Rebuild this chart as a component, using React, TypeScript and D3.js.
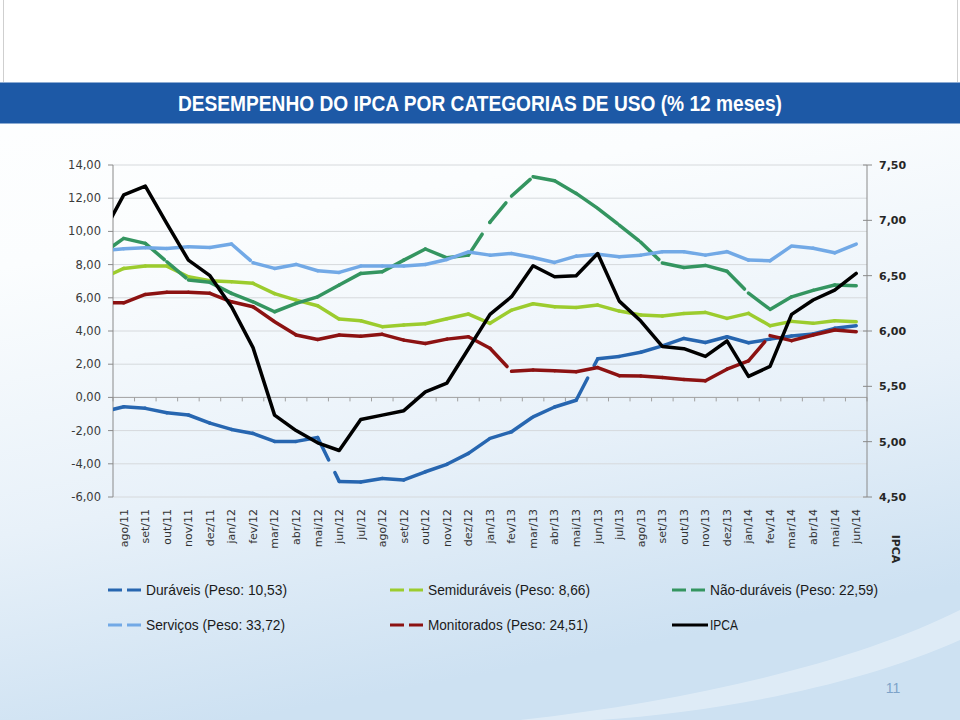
import React from "react";
import * as d3 from "d3";

// Months: the first one (jul/11) lies just left of the plot area and is clipped, as in the source chart
const months = [
  "jul/11", "ago/11", "set/11", "out/11", "nov/11", "dez/11",
  "jan/12", "fev/12", "mar/12", "abr/12", "mai/12", "jun/12", "jul/12", "ago/12", "set/12", "out/12", "nov/12", "dez/12",
  "jan/13", "fev/13", "mar/13", "abr/13", "mai/13", "jun/13", "jul/13", "ago/13", "set/13", "out/13", "nov/13", "dez/13",
  "jan/14", "fev/14", "mar/14", "abr/14", "mai/14", "jun/14",
];

const duraveis = [-0.88, -0.56, -0.66, -0.92, -1.06, -1.55, -1.93, -2.17, -2.65, -2.65, -2.42, -5.06, -5.1, -4.88, -4.97, -4.48, -4.03, -3.37, -2.47, -2.07, -1.17, -0.58, -0.17, 2.33, 2.47, 2.72, 3.1, 3.55, 3.31, 3.65, 3.29, 3.51, 3.7, 3.82, 4.16, 4.32];
const semiduraveis = [7.17, 7.77, 7.91, 7.91, 7.27, 7.03, 6.97, 6.87, 6.25, 5.86, 5.52, 4.72, 4.62, 4.26, 4.36, 4.44, 4.74, 5.02, 4.46, 5.26, 5.64, 5.46, 5.42, 5.56, 5.2, 4.96, 4.9, 5.06, 5.12, 4.76, 5.06, 4.32, 4.58, 4.46, 4.62, 4.56];
const naoDuraveis = [8.66, 9.58, 9.28, 8.17, 7.07, 6.93, 6.27, 5.76, 5.16, 5.66, 6.06, 6.77, 7.47, 7.57, 8.27, 8.94, 8.41, 8.57, 10.56, 12.13, 13.29, 13.05, 12.29, 11.39, 10.38, 9.35, 8.1, 7.83, 7.95, 7.6, 6.28, 5.3, 6.06, 6.45, 6.77, 6.73];
const servicos = [8.82, 8.96, 9.02, 8.97, 9.08, 9.03, 9.24, 8.11, 7.77, 8.01, 7.63, 7.53, 7.91, 7.91, 7.92, 8.01, 8.31, 8.76, 8.57, 8.67, 8.43, 8.13, 8.51, 8.63, 8.47, 8.57, 8.78, 8.78, 8.57, 8.78, 8.27, 8.23, 9.12, 8.98, 8.71, 9.24];
const monitorados = [5.7, 5.7, 6.2, 6.33, 6.33, 6.27, 5.76, 5.46, 4.56, 3.76, 3.49, 3.76, 3.69, 3.8, 3.45, 3.25, 3.51, 3.65, 2.96, 1.57, 1.65, 1.61, 1.55, 1.8, 1.31, 1.29, 1.2, 1.08, 1.0, 1.7, 2.2, 3.72, 3.42, 3.76, 4.06, 3.96];
const ipca = [6.87, 7.23, 7.31, 6.97, 6.64, 6.5, 6.22, 5.85, 5.24, 5.1, 4.99, 4.92, 5.2, 5.24, 5.28, 5.45, 5.53, 5.84, 6.15, 6.31, 6.59, 6.49, 6.5, 6.7, 6.27, 6.09, 5.86, 5.84, 5.77, 5.91, 5.59, 5.68, 6.15, 6.28, 6.37, 6.52];

const leftTicks = [-6, -4, -2, 0, 2, 4, 6, 8, 10, 12, 14];
const rightTicks = [4.5, 5.0, 5.5, 6.0, 6.5, 7.0, 7.5];

const seriesNames = [
  "Duráveis (Peso: 10,53)",
  "Semiduráveis (Peso: 8,66)",
  "Não-duráveis (Peso: 22,59)",
  "Serviços (Peso: 33,72)",
  "Monitorados (Peso: 24,51)",
  "IPCA",
];
const seriesColors = ["#2766b0", "#9ccc2e", "#349560", "#72a9e6", "#8c1212", "#000000"];
const seriesData = [duraveis, semiduraveis, naoDuraveis, servicos, monitorados, ipca];
const seriesDashed = [true, true, true, true, true, false];
const seriesRight = [false, false, false, false, false, true];

const title = "DESEMPENHO DO IPCA POR CATEGORIAS DE USO (% 12 meses)";

const W = 960;
const H = 720;
const plot = { left: 113, right: 867, top: 165, bottom: 497 };

const fmt = (v: number) => v.toFixed(2).replace(".", ",");

export default function App() {
  const x = d3.scaleLinear().domain([0.5, months.length - 0.5]).range([plot.left, plot.right]);
  const yL = d3.scaleLinear().domain([-6, 14]).range([plot.bottom, plot.top]);
  const yR = d3.scaleLinear().domain([4.5, 7.5]).range([plot.bottom, plot.top]);
  const line = d3.line<[number, number]>().x((d) => d[0]).y((d) => d[1]);

  const legendCols = [108, 390, 672];
  const legendRows = [590, 625];
  const legendTextLen = [141, 162, 168, 139, 160, 28];

  const visibleIdx = d3.range(1, months.length);
  const boundaries = d3.range(0.5, months.length, 1);

  return (
    <svg
      width={W}
      height={H}
      viewBox={`0 0 ${W} ${H}`}
      style={{ position: "absolute", left: 0, top: 0, display: "block" }}
      fontFamily="DejaVu Sans, Verdana, sans-serif"
    >
      <defs>
        <linearGradient id="bg" x1="0" y1="0" x2="0.25" y2="1">
          <stop offset="0" stopColor="#ffffff" />
          <stop offset="0.35" stopColor="#fbfdfe" />
          <stop offset="0.7" stopColor="#e8f1f9" />
          <stop offset="1" stopColor="#cde1f2" />
        </linearGradient>
        <clipPath id="plotClip">
          <rect x={plot.left} y={plot.top - 10} width={plot.right - plot.left} height={plot.bottom - plot.top + 20} />
        </clipPath>
      </defs>

      {/* slide background */}
      <rect x={0} y={0} width={W} height={H} fill="url(#bg)" />
      <rect x={0} y={0} width={W} height={82} fill="#ffffff" />
      <line x1={3.5} y1={0} x2={3.5} y2={82} stroke="#cfcfcf" />
      <line x1={957.5} y1={0} x2={957.5} y2={82} stroke="#cfcfcf" />
      <path d="M 520 720 C 700 700, 860 660, 960 610 L 960 640 C 860 685, 720 712, 600 720 Z" fill="#ffffff" opacity={0.35} />

      {/* title bar */}
      <rect x={0} y={82.5} width={W} height={41} fill="#1d59a6" />
      <text
        x={480}
        y={111}
        textAnchor="middle"
        fill="#ffffff"
        fontFamily="Liberation Sans, Arial, sans-serif"
        fontWeight="bold"
        fontSize={22}
        textLength={604}
        lengthAdjust="spacingAndGlyphs"
      >
        {title}
      </text>

      {/* gridlines */}
      {leftTicks.map((t) => (
        <line key={"g" + t} x1={plot.left} x2={plot.right} y1={yL(t)} y2={yL(t)} stroke={t === 0 ? "#a0a0a0" : "#d6d9dc"} strokeWidth={1} />
      ))}

      {/* x axis ticks at 0 */}
      {boundaries.map((b) => (
        <line key={"xt" + b} x1={x(b)} x2={x(b)} y1={yL(0)} y2={yL(0) + 4} stroke="#a0a0a0" />
      ))}

      {/* left axis */}
      <line x1={plot.left} x2={plot.left} y1={plot.top} y2={plot.bottom} stroke="#8a8a8a" />
      {leftTicks.map((t) => (
        <g key={"l" + t}>
          <line x1={plot.left - 5} x2={plot.left} y1={yL(t)} y2={yL(t)} stroke="#8a8a8a" />
          <text x={101} y={yL(t)} dy="0.35em" textAnchor="end" fontSize={11.5} fill="#3a3a3a">
            {fmt(t)}
          </text>
        </g>
      ))}

      {/* right axis */}
      <line x1={plot.right} x2={plot.right} y1={plot.top} y2={plot.bottom} stroke="#8a8a8a" />
      {rightTicks.map((t) => (
        <g key={"r" + t}>
          <line x1={plot.right - 4} x2={plot.right + 5} y1={yR(t)} y2={yR(t)} stroke="#8a8a8a" />
          <text x={879} y={yR(t)} dy="0.35em" textAnchor="start" fontSize={11} fontWeight="bold" fill="#262626">
            {fmt(t)}
          </text>
        </g>
      ))}
      <text transform={`translate(896, 549) rotate(90)`} dy="0.35em" textAnchor="middle" fontSize={11} fontWeight="bold" fill="#262626">
        IPCA
      </text>

      {/* x labels */}
      {visibleIdx.map((i) => (
        <text key={"xl" + i} transform={`translate(${x(i)}, 509) rotate(-90)`} dy="0.35em" textAnchor="end" fontSize={11} fill="#333333">
          {months[i]}
        </text>
      ))}

      {/* series */}
      <g clipPath="url(#plotClip)">
        {seriesData.map((data, s) => {
          const ys = seriesRight[s] ? yR : yL;
          const pts: [number, number][] = data.map((v, i) => [x(i), ys(v)]);
          if (!seriesDashed[s]) {
            return (
              <path key={"s" + s} d={line(pts) || ""} fill="none" stroke={seriesColors[s]} strokeWidth={3.5} strokeLinejoin="round" strokeLinecap="round" />
            );
          }
          return (
            <g key={"s" + s}>
              {pts.slice(0, -1).map((p, i) => (
                <path
                  key={i}
                  d={line([p, pts[i + 1]]) || ""}
                  fill="none"
                  stroke={seriesColors[s]}
                  strokeWidth={3.5}
                  strokeLinecap="round"
                  strokeDasharray="25,14"
                />
              ))}
            </g>
          );
        })}
      </g>

      {/* legend */}
      {seriesNames.map((name, s) => {
        const lx = legendCols[s % 3];
        const ly = legendRows[Math.floor(s / 3)];
        return (
          <g key={"lg" + s}>
            <line
              x1={lx}
              x2={lx + 36}
              y1={ly}
              y2={ly}
              stroke={seriesColors[s]}
              strokeWidth={3}
              strokeDasharray={seriesDashed[s] ? "14,5" : undefined}
            />
            <text
              x={lx + 38}
              y={ly}
              dy="0.36em"
              fontFamily="Liberation Sans, Arial, sans-serif"
              fontSize={14.5}
              fill="#1a1a1a"
              textLength={legendTextLen[s]}
              lengthAdjust="spacingAndGlyphs"
            >
              {name}
            </text>
          </g>
        );
      })}

      {/* page number */}
      <text x={893} y={693} textAnchor="middle" fontFamily="Liberation Sans, Arial, sans-serif" fontSize={14} fill="#7ea3c9">
        11
      </text>
    </svg>
  );
}
